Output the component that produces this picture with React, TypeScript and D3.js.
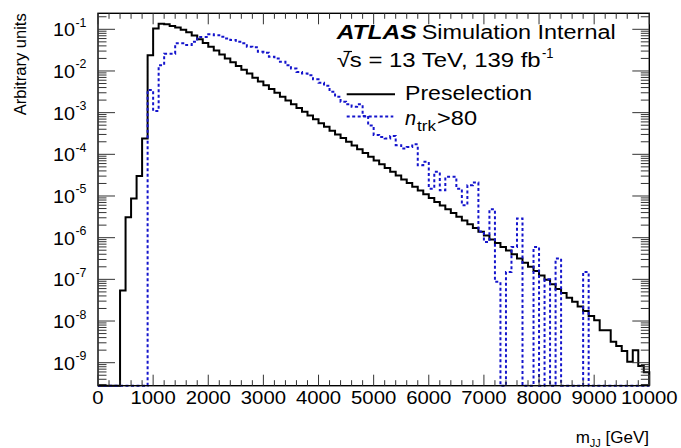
import React from 'react';
import * as d3 from 'd3';

// ---------------- data ----------------
const BIN_WIDTH = 100;
const BIN_EDGES = d3.range(0, 10000 + BIN_WIDTH, BIN_WIDTH);

// "Preselection" (black, solid) – one value per 100 GeV bin, 0 … 10000 GeV
const PRESELECTION = [
  0, 0, 0, 0, 5.4e-8, 3.1e-6, 8.7e-6, 3.0e-5, 2.4e-4, 2.4e-2,
  1.05e-1, 1.35e-1, 1.32e-1, 1.2e-1, 1.1e-1, 9.8e-2, 8.5e-2, 7.1e-2, 5.75e-2, 4.7e-2,
  3.8e-2, 3.1e-2, 2.5e-2, 2.0e-2, 1.62e-2, 1.32e-2, 1.07e-2, 8.7e-3, 6.9e-3, 5.6e-3,
  4.57e-3, 3.7e-3, 3.0e-3, 2.4e-3, 1.95e-3, 1.58e-3, 1.29e-3, 1.05e-3, 8.5e-4, 6.9e-4,
  5.6e-4, 4.57e-4, 3.7e-4, 3.0e-4, 2.45e-4, 2.0e-4, 1.62e-4, 1.32e-4, 1.07e-4, 8.7e-5,
  7.1e-5, 5.75e-5, 4.7e-5, 3.8e-5, 3.1e-5, 2.5e-5, 2.04e-5, 1.66e-5, 1.35e-5, 1.1e-5,
  8.9e-6, 7.2e-6, 5.9e-6, 4.8e-6, 3.9e-6, 3.16e-6, 2.57e-6, 2.09e-6, 1.7e-6, 1.38e-6,
  1.12e-6, 9.1e-7, 7.4e-7, 6.0e-7, 4.9e-7, 4.0e-7, 3.16e-7, 2.5e-7, 2.0e-7, 1.58e-7,
  1.23e-7, 9.8e-8, 7.6e-8, 5.9e-8, 4.7e-8, 3.6e-8, 2.9e-8, 2.24e-8, 1.74e-8, 1.32e-8,
  1.05e-8, 6.0e-9, 6.0e-9, 3.16e-9, 2.5e-9, 1.9e-9, 1.05e-9, 2.0e-9, 8.3e-10, 5.9e-10,
];

// "n_trk > 80" (blue, dotted)
const NTRK80 = [
  0, 0, 0, 0, 0, 0, 0, 0, 0, 3.5e-3,
  1.1e-3, 1.38e-2, 2.6e-2, 2.6e-2, 4.6e-2, 4.6e-2, 4.2e-2, 5.0e-2, 6.5e-2, 6.5e-2,
  7.6e-2, 7.2e-2, 6.6e-2, 6.0e-2, 5.5e-2, 5.0e-2, 4.6e-2, 3.8e-2, 3.7e-2, 2.9e-2,
  2.75e-2, 2.2e-2, 2.0e-2, 1.66e-2, 1.38e-2, 1.15e-2, 9.5e-3, 8.7e-3, 7.9e-3, 6.3e-3,
  5.2e-3, 4.4e-3, 3.16e-3, 2.4e-3, 1.82e-3, 1.58e-3, 1.38e-3, 1.58e-3, 8.3e-4, 4.9e-4,
  2.9e-4, 2.6e-4, 2.4e-4, 2.75e-4, 1.66e-4, 1.38e-4, 1.5e-4, 1.74e-4, 5.5e-5, 6.6e-5,
  1.5e-5, 3.8e-5, 1.38e-5, 2.9e-5, 2.9e-5, 1.5e-5, 6.0e-6, 1.82e-5, 2.1e-5, 1.4e-6,
  7.9e-7, 4.8e-6, 8.7e-8, 0, 1.5e-7, 6.0e-7, 2.9e-6, 0, 0, 6.0e-7,
  0, 1.0e-7, 0, 3.16e-7, 0, 0, 0, 0, 1.5e-7, 0,
  0, 0, 0, 0, 0, 0, 0, 0, 0, 0,
];

const X_MAJOR = [0, 1000, 2000, 3000, 4000, 5000, 6000, 7000, 8000, 9000, 10000];
const X_TICK_LABELS = ['0', '1000', '2000', '3000', '4000', '5000', '6000', '7000', '8000', '9000', '10000'];
const Y_DECADES = [-1, -2, -3, -4, -5, -6, -7, -8, -9];

const FONT = '"Liberation Sans", Arial, Helvetica, sans-serif';

export default function App() {
  const W = 681;
  const H = 448;
  const left = 98;
  const right = 649.3;
  const top = 13.3;
  const bottom = 385.7;

  const x = d3.scaleLinear().domain([0, 10000]).range([left, right]);
  const y = d3
    .scaleLog()
    .domain([Math.pow(10, -9.552), Math.pow(10, -0.616)])
    .range([bottom, top]);

  const yv = (v: number) => (v > 0 ? Math.max(top, Math.min(bottom, y(v))) : bottom);

  const histPath = (vals: number[]) => {
    const pts: [number, number][] = [[x(BIN_EDGES[0]), bottom]];
    vals.forEach((v, i) => pts.push([x(BIN_EDGES[i]), yv(v)]));
    pts.push([x(BIN_EDGES[vals.length]), yv(vals[vals.length - 1])]);
    pts.push([x(BIN_EDGES[vals.length]), bottom]);
    return d3.line().curve(d3.curveStepAfter)(pts) || '';
  };

  // ticks
  const xMinor = d3.range(0, 10001, 200).filter((v) => v % 1000 !== 0);
  const [d0, d1] = y.domain();
  const yMinor: number[] = [];
  for (let e = -10; e <= 0; e++) {
    for (let k = 2; k <= 9; k++) {
      const v = k * Math.pow(10, e);
      if (v >= d0 && v <= d1) yMinor.push(v);
    }
  }
  const yMajor = Y_DECADES.map((e) => Math.pow(10, e));

  const tickColor = '#333';

  return (
    <svg
      width={W}
      height={H}
      style={{ position: 'absolute', left: 0, top: 0, background: '#fff' }}
      fontFamily={FONT}
    >
      <rect x={0} y={0} width={W} height={H} fill="#fff" />

      {/* histograms */}
      <path d={histPath(PRESELECTION)} fill="none" stroke="#000" strokeWidth={2} />
      <path
        d={histPath(NTRK80)}
        fill="none"
        stroke="#1414cc"
        strokeWidth={2}
        strokeDasharray="3 2.5"
      />

      {/* frame */}
      <rect
        x={left}
        y={top}
        width={right - left}
        height={bottom - top}
        fill="none"
        stroke="#000"
        strokeWidth={1.4}
      />

      {/* x ticks (bottom & top) */}
      {X_MAJOR.map((v) => (
        <g key={'xM' + v}>
          <line x1={x(v)} x2={x(v)} y1={bottom} y2={bottom - 11} stroke={tickColor} strokeWidth={1} />
          <line x1={x(v)} x2={x(v)} y1={top} y2={top + 11} stroke={tickColor} strokeWidth={1} />
        </g>
      ))}
      {xMinor.map((v) => (
        <g key={'xm' + v}>
          <line x1={x(v)} x2={x(v)} y1={bottom} y2={bottom - 5.5} stroke={tickColor} strokeWidth={1} />
          <line x1={x(v)} x2={x(v)} y1={top} y2={top + 5.5} stroke={tickColor} strokeWidth={1} />
        </g>
      ))}

      {/* y ticks (left & right) */}
      {yMajor.map((v) => (
        <g key={'yM' + v}>
          <line x1={left} x2={left + 17} y1={y(v)} y2={y(v)} stroke={tickColor} strokeWidth={1} />
          <line x1={right} x2={right - 17} y1={y(v)} y2={y(v)} stroke={tickColor} strokeWidth={1} />
        </g>
      ))}
      {yMinor.map((v) => (
        <g key={'ym' + v}>
          <line x1={left} x2={left + 8.5} y1={y(v)} y2={y(v)} stroke={tickColor} strokeWidth={1} />
          <line x1={right} x2={right - 8.5} y1={y(v)} y2={y(v)} stroke={tickColor} strokeWidth={1} />
        </g>
      ))}

      {/* x tick labels */}
      {X_MAJOR.map((v, i) => (
        <text
          key={'xl' + v}
          x={x(v)}
          y={404}
          textAnchor="middle"
          fontSize={18}
          textLength={X_TICK_LABELS[i].length * 11.3}
          lengthAdjust="spacingAndGlyphs"
          fill="#000"
        >
          {X_TICK_LABELS[i]}
        </text>
      ))}

      {/* y tick labels */}
      {Y_DECADES.map((e) => {
        const yy = y(Math.pow(10, e));
        return (
          <g key={'yl' + e}>
            <text
              x={75}
              y={yy + 7}
              textAnchor="end"
              fontSize={18}
              textLength={22}
              lengthAdjust="spacingAndGlyphs"
              fill="#000"
            >
              10
            </text>
            <text
              x={75.5}
              y={yy - 2.5}
              fontSize={13}
              textLength={11}
              lengthAdjust="spacingAndGlyphs"
              fill="#000"
            >
              {String(e)}
            </text>
          </g>
        );
      })}

      {/* axis titles */}
      <text
        transform={`translate(26,${top}) rotate(-90)`}
        textAnchor="end"
        fontSize={17}
        textLength={102}
        lengthAdjust="spacingAndGlyphs"
        fill="#000"
      >
        Arbitrary units
      </text>
      <text x={649} y={443} textAnchor="end" fontSize={17} fill="#000">
        m
        <tspan dy={4} fontSize={11}>
          JJ
        </tspan>
        <tspan dy={-4}> [GeV]</tspan>
      </text>

      {/* ATLAS label */}
      <text
        x={336.7}
        y={39}
        fontSize={20}
        fontWeight="bold"
        fontStyle="italic"
        textLength={80}
        lengthAdjust="spacingAndGlyphs"
        fill="#000"
      >
        ATLAS
      </text>
      <text x={421.7} y={39} fontSize={20} textLength={194} lengthAdjust="spacingAndGlyphs" fill="#000">
        Simulation Internal
      </text>
      <text x={336.7} y={67} fontSize={20} textLength={204} lengthAdjust="spacingAndGlyphs" fill="#000">
        √s = 13 TeV, 139 fb
      </text>
      <line x1={343.5} x2={352} y1={51.5} y2={51.5} stroke="#000" strokeWidth={1.2} />
      <text x={542} y={58} fontSize={14} textLength={11.5} lengthAdjust="spacingAndGlyphs" fill="#000">
        -1
      </text>

      {/* legend */}
      <line x1={346.7} x2={395} y1={94.3} y2={94.3} stroke="#000" strokeWidth={2} />
      <text x={405} y={100} fontSize={20} textLength={127} lengthAdjust="spacingAndGlyphs" fill="#000">
        Preselection
      </text>
      <line
        x1={346.7}
        x2={393.3}
        y1={116.5}
        y2={116.5}
        stroke="#1414cc"
        strokeWidth={2}
        strokeDasharray="3 2.5"
      />
      <text x={405} y={125} fontSize={20} fontStyle="italic" fill="#000">
        n
      </text>
      <text x={417} y={131} fontSize={14} textLength={19} lengthAdjust="spacingAndGlyphs" fill="#000">
        trk
      </text>
      <text x={437} y={125} fontSize={20} textLength={40} lengthAdjust="spacingAndGlyphs" fill="#000">
        &gt;80
      </text>
    </svg>
  );
}
